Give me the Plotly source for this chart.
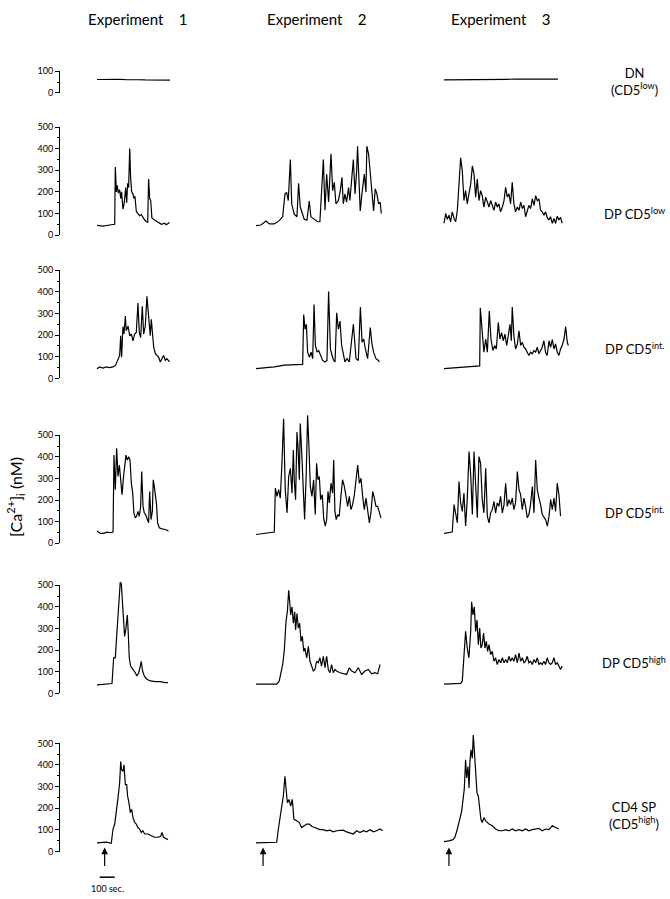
import plotly.graph_objects as go

# ---------------- data: (time s, [Ca2+]i nM) ----------------
dn_e1 = [(0,62),(40,63),(80,62),(120,62),(160,63),(200,61),(240,62),(280,61),(320,60),(360,59),(400,59),(440,58),(487,59)]
dn_e3 = [(0,60),(60,60),(120,61),(180,62),(240,62),(300,63),(360,63),(420,63),(480,64),(540,64),(600,63),(660,64),(720,64),(760,64)]

lo_e1 = [(0,45),(40,42),(84,47),(118,50),(122,315),(129,200),(135,230),(142,195),(151,210),(158,170),(164,200),(173,120),(182,150),(191,220),(198,150),(204,240),(211,220),(218,400),(224,270),(231,200),(240,190),(246,170),(253,180),(262,110),(273,100),(284,90),(295,95),(306,80),(318,70),(329,62),(338,60),(344,260),(351,170),(358,160),(366,80),(384,70),(406,60),(429,50),(451,55),(462,48),(484,58)]
lo_e2 = [(0,44),(33,47),(67,65),(89,52),(122,52),(155,67),(178,85),(193,191),(204,198),(215,160),(229,350),(238,145),(255,97),(273,85),(284,240),(295,130),(322,73),(340,70),(355,158),(366,85),(389,73),(411,62),(426,62),(437,191),(449,350),(460,115),(471,282),(484,153),(500,376),(511,206),(522,244),(533,145),(549,160),(562,206),(573,267),(582,145),(593,191),(604,153),(617,220),(626,160),(637,248),(649,350),(660,191),(671,297),(677,411),(686,267),(695,112),(706,191),(722,282),(733,199),(739,411),(751,373),(762,282),(773,191),(784,112),(795,214),(806,191),(817,145),(828,153),(835,100)]
lo_e3 = [(0,55),(11,100),(22,73),(33,92),(44,62),(55,108),(67,77),(78,62),(89,115),(100,236),(111,358),(122,297),(133,160),(144,206),(155,145),(166,191),(178,236),(189,320),(200,282),(211,176),(222,259),(233,160),(244,206),(255,183),(266,130),(278,176),(289,153),(300,130),(311,160),(322,138),(333,115),(344,153),(355,130),(366,145),(377,108),(389,130),(400,160),(411,221),(422,176),(433,191),(444,145),(455,244),(466,145),(477,108),(489,130),(500,115),(511,153),(522,123),(533,138),(544,85),(555,115),(566,138),(577,123),(589,168),(600,138),(611,183),(622,160),(633,168),(644,115),(655,108),(666,92),(677,108),(688,82),(699,70),(710,85),(722,55),(733,77),(744,55),(755,88),(766,70),(777,82),(788,55)]

ia_e1 = [(0,45),(18,53),(40,48),(62,53),(84,50),(107,53),(124,61),(140,94),(151,106),(158,197),(164,98),(173,239),(180,205),(189,288),(195,220),(207,242),(218,197),(229,205),(240,174),(251,205),(262,212),(273,348),(282,212),(291,189),(302,333),(311,205),(322,242),(333,379),(344,303),(355,197),(362,273),(369,227),(378,144),(389,114),(400,106),(411,98),(422,76),(433,91),(444,106),(455,83),(466,91),(484,76)]
ia_e2 = [(0,45),(56,48),(122,53),(189,61),(255,64),(311,65),(318,295),(327,227),(336,250),(344,121),(356,98),(367,121),(378,91),(387,341),(396,152),(407,121),(418,129),(429,106),(444,83),(460,76),(473,83),(484,402),(496,136),(507,106),(518,83),(527,76),(538,303),(549,227),(560,265),(571,152),(582,106),(593,76),(607,91),(622,76),(649,250),(667,91),(682,83),(696,330),(707,167),(718,182),(729,136),(744,91),(762,235),(773,159),(784,121),(800,91),(816,83),(822,76)]
ia_e3 = [(0,45),(89,50),(178,53),(238,58),(242,326),(253,212),(266,121),(278,182),(289,121),(302,311),(313,182),(326,129),(338,152),(349,136),(362,258),(373,182),(384,212),(395,174),(406,205),(418,152),(429,205),(440,250),(449,174),(455,330),(466,197),(477,136),(489,159),(500,220),(511,152),(522,167),(533,144),(544,136),(555,121),(566,106),(577,121),(589,114),(600,129),(611,121),(622,144),(633,114),(644,129),(655,144),(666,174),(677,121),(688,106),(700,174),(711,144),(722,179),(733,136),(744,159),(755,121),(766,106),(777,136),(788,152),(800,182),(811,239),(822,167),(829,152)]

ib_e1 = [(0,57),(22,46),(44,46),(67,52),(89,49),(107,52),(113,408),(122,248),(131,439),(140,309),(149,362),(158,294),(167,225),(177,309),(184,370),(193,408),(202,385),(211,401),(220,385),(229,278),(238,232),(246,141),(255,118),(264,125),(273,148),(282,125),(291,171),(298,332),(307,171),(315,141),(324,133),(333,110),(344,95),(351,240),(360,110),(369,148),(375,294),(382,263),(391,202),(397,179),(404,95),(415,72),(433,67),(455,64),(477,57)]
ib_e2 = [(0,41),(56,46),(100,49),(122,52),(129,255),(140,217),(151,248),(162,209),(173,370),(184,576),(195,248),(207,141),(218,309),(229,347),(240,232),(249,431),(255,294),(264,202),(273,515),(280,446),(289,294),(295,554),(304,431),(313,294),(324,110),(335,324),(344,592),(353,446),(362,263),(373,217),(384,294),(395,133),(404,370),(413,294),(422,309),(431,202),(442,225),(451,118),(462,80),(471,110),(480,240),(489,187),(500,278),(511,232),(518,385),(526,148),(535,110),(544,133),(555,125),(566,217),(577,294),(589,263),(600,217),(611,171),(622,217),(633,156),(644,179),(656,225),(667,294),(678,362),(689,278),(700,301),(711,217),(722,156),(733,209),(744,148),(756,95),(767,148),(778,240),(789,209),(800,171),(811,171),(822,141),(833,118)]
ib_e3 = [(0,46),(33,49),(55,52),(67,179),(78,133),(89,95),(100,286),(111,187),(122,148),(133,232),(144,80),(155,202),(167,424),(178,317),(189,133),(200,424),(211,271),(222,118),(233,401),(244,370),(255,202),(266,141),(278,347),(289,125),(300,95),(311,141),(322,156),(333,194),(344,141),(355,187),(366,171),(377,217),(389,141),(400,179),(411,278),(422,171),(433,202),(444,179),(455,209),(466,156),(477,187),(489,332),(500,248),(511,225),(522,156),(533,209),(544,171),(555,118),(566,133),(577,179),(589,263),(600,141),(611,385),(622,248),(633,209),(644,179),(655,133),(666,118),(677,110),(689,80),(700,125),(711,202),(722,156),(733,209),(744,148),(755,278),(766,225),(777,125)]

hi_e1 = [(0,40),(33,43),(67,43),(100,46),(111,165),(122,165),(129,241),(138,332),(147,424),(155,515),(162,508),(169,416),(178,309),(184,264),(193,302),(202,363),(209,271),(215,165),(224,127),(233,119),(244,104),(255,96),(266,81),(278,96),(289,127),(295,149),(304,104),(315,81),(333,66),(355,58),(389,55),(422,55),(455,50),(473,50)]
hi_e2 = [(0,43),(71,43),(138,43),(155,58),(166,88),(178,134),(189,203),(200,332),(209,378),(218,477),(224,431),(231,363),(240,401),(249,325),(258,378),(264,294),(273,370),(282,302),(291,325),(300,241),(309,264),(318,195),(326,210),(338,165),(349,218),(360,149),(371,127),(382,104),(393,111),(404,149),(415,142),(426,165),(437,127),(449,172),(460,119),(471,172),(482,111),(493,96),(504,134),(515,96),(526,111),(537,104),(560,96),(582,91),(604,88),(622,119),(638,104),(660,96),(682,119),(704,88),(727,104),(749,111),(771,91),(793,96),(811,91),(827,134)]
hi_e3 = [(0,43),(56,46),(111,47),(122,58),(133,180),(144,287),(155,210),(166,165),(178,287),(184,424),(193,363),(202,401),(211,287),(220,340),(229,226),(238,302),(246,210),(255,226),(264,279),(273,210),(282,241),(291,195),(300,226),(311,180),(322,195),(333,149),(344,165),(355,134),(366,157),(378,142),(389,165),(400,142),(411,157),(422,142),(433,172),(444,149),(455,165),(466,149),(477,180),(489,142),(500,187),(511,149),(522,165),(533,142),(544,149),(555,172),(566,142),(577,149),(589,134),(600,157),(611,142),(622,165),(633,134),(644,142),(655,134),(666,149),(677,134),(688,165),(699,142),(711,134),(722,142),(733,165),(744,134),(755,142),(766,127),(777,111),(788,127)]

sp_e1 = [(0,40),(29,40),(62,43),(95,38),(107,104),(118,127),(129,180),(140,248),(151,317),(158,416),(164,378),(173,370),(180,401),(189,309),(198,309),(204,256),(213,226),(222,180),(231,195),(240,157),(251,134),(262,127),(273,111),(284,104),(295,88),(306,96),(318,81),(340,81),(362,73),(384,66),(406,66),(424,70),(433,88),(444,66),(455,61),(473,55)]
sp_e2 = [(0,40),(71,40),(138,43),(149,104),(160,149),(171,210),(182,256),(193,348),(200,279),(209,226),(220,241),(231,210),(242,241),(253,149),(271,142),(289,134),(304,111),(320,119),(338,127),(355,127),(373,116),(391,111),(409,104),(426,101),(449,101),(471,96),(493,99),(515,91),(537,96),(560,96),(582,99),(604,91),(622,88),(649,81),(671,96),(693,88),(716,96),(738,91),(760,101),(782,91),(804,96),(827,104),(844,96)]
sp_e3 = [(0,46),(33,49),(60,55),(73,66),(89,104),(104,149),(118,187),(127,241),(135,287),(144,424),(151,340),(160,393),(167,294),(173,416),(180,470),(189,431),(195,538),(202,470),(211,378),(220,271),(229,256),(238,195),(246,149),(255,134),(266,157),(278,142),(289,134),(300,127),(322,119),(344,104),(366,96),(389,96),(411,101),(433,96),(455,104),(477,96),(500,101),(522,96),(544,104),(566,96),(589,101),(611,104),(633,107),(655,96),(677,104),(699,101),(722,119),(744,111),(766,104)]

experiments = ["Experiment\u00a0\u00a0\u00a0 1", "Experiment\u00a0\u00a0\u00a0 2", "Experiment\u00a0\u00a0\u00a0 3"]
row_labels = ["DN<br>(CD5<sup>low</sup>)", "DP CD5<sup>low</sup>", "DP CD5<sup>int.</sup>",
              "DP CD5<sup>int.</sup>", "DP CD5<sup>high</sup>", "CD4 SP<br>(CD5<sup>high</sup>)"]
row_max = [100, 500, 500, 500, 500, 500]
stim_t = [51, 47, 33]          # arrow (stimulus) times per experiment, s
scale_bar_s = 100

# grid of traces: row -> [exp1, exp2, exp3]
grid = [
    [dn_e1, None, dn_e3],
    [lo_e1, lo_e2, lo_e3],
    [ia_e1, ia_e2, ia_e3],
    [ib_e1, ib_e2, ib_e3],
    [hi_e1, hi_e2, hi_e3],
    [sp_e1, sp_e2, sp_e3],
]

# ---------------- layout geometry (pixels) ----------------
W, H = 670, 899
col_start = [97, 256, 444]   # x pixel where t=0 sits
px_per_s = 0.15
row_zero = [88, 232, 377, 544, 696, 856]  # y pixel of 0 nM
px_per_nM = 0.219
axis_x = 60
FONT = "Lato, 'Open Sans', Arial, sans-serif"

def fy(p):
    return 1 - p / H

fig = go.Figure()
layout = {}

# x axes for columns
T0, T1 = -20, 880
for c in range(3):
    name = "xaxis" if c == 0 else f"xaxis{c+1}"
    d0 = (col_start[c] + T0 * px_per_s) / W
    d1 = (col_start[c] + T1 * px_per_s) / W
    layout[name] = dict(domain=[d0, d1], range=[T0, T1], visible=False, fixedrange=True)
layout["xaxis4"] = dict(domain=[axis_x / W, (axis_x + 20) / W], range=[0, 1], visible=False)

for r in range(6):
    yname = "yaxis" if r == 0 else f"yaxis{r+1}"
    ymax = 350 if r == 0 else 650
    layout[yname] = dict(domain=[fy(row_zero[r]), fy(row_zero[r] - ymax * px_per_nM)],
                         range=[0, ymax], visible=False, fixedrange=True, anchor="x")
    # visible tick axis
    tname = f"yaxis{r+7}"
    layout[tname] = dict(domain=[fy(row_zero[r]), fy(row_zero[r] - row_max[r] * px_per_nM)],
                         range=[0, row_max[r]], anchor="x4", showline=True, linecolor="black",
                         linewidth=1, ticks="outside", ticklen=4, tickwidth=1, tickcolor="black",
                         dtick=100, showgrid=False, zeroline=False,
                         tickfont=dict(size=9, color="black", family=FONT),
                         minor=dict(ticks="outside", ticklen=2, dtick=50, tickcolor="black", showgrid=False))
    fig.add_trace(go.Scatter(x=[], y=[], xaxis="x4", yaxis=f"y{r+7}", showlegend=False, hoverinfo="skip"))
    for c in range(3):
        data = grid[r][c]
        if data is None:
            continue
        t = [p[0] for p in data]
        v = [p[1] for p in data]
        fig.add_trace(go.Scatter(x=t, y=v, mode="lines",
                                 xaxis="x" if c == 0 else f"x{c+1}",
                                 yaxis="y" if r == 0 else f"y{r+1}",
                                 line=dict(color="black", width=1.2),
                                 showlegend=False, hoverinfo="skip"))

annotations = []
header_x = [137, 316, 500]
for c in range(3):
    annotations.append(dict(text=experiments[c], x=header_x[c] / W, y=fy(13), xref="paper", yref="paper",
                            showarrow=False, font=dict(size=15, color="black", family=FONT),
                            xanchor="center", yanchor="middle"))
label_y = [76, 210, 347, 513, 665, 820]
for r in range(6):
    annotations.append(dict(text=row_labels[r], x=634 / W, y=fy(label_y[r]), xref="paper", yref="paper",
                            showarrow=False, font=dict(size=13, color="black", family=FONT),
                            xanchor="center", yanchor="middle", align="center"))
annotations.append(dict(text="[Ca<sup>2+</sup>]<sub>i</sub> (nM)", x=16 / W, y=fy(497), xref="paper", yref="paper",
                        showarrow=False, textangle=-90, font=dict(size=16, color="black", family=FONT),
                        xanchor="center", yanchor="middle"))
for c in range(3):
    annotations.append(dict(text="", x=stim_t[c], y=fy(852), xref="x" if c == 0 else f"x{c+1}", yref="paper",
                            showarrow=True, arrowhead=2, arrowsize=1.1, arrowwidth=1.2, arrowcolor="black",
                            ax=0, ay=20))
annotations.append(dict(text="100 sec.", x=68, y=fy(893), xref="x", yref="paper", showarrow=False,
                        font=dict(size=9, color="black", family=FONT), xanchor="center", yanchor="middle"))

shapes = [dict(type="line", xref="x", yref="paper", x0=18, x1=18 + scale_bar_s, y0=fy(882), y1=fy(882),
               line=dict(color="black", width=1.5))]

fig.update_layout(**layout)
fig.update_layout(width=W, height=H, margin=dict(l=0, r=0, t=0, b=0),
                  paper_bgcolor="white", plot_bgcolor="rgba(0,0,0,0)",
                  annotations=annotations, shapes=shapes, hovermode=False, showlegend=False)

fig.write_html("out.html", config={"displayModeBar": False},
               post_script="document.body.style.margin='0';document.body.style.overflow='hidden';")
